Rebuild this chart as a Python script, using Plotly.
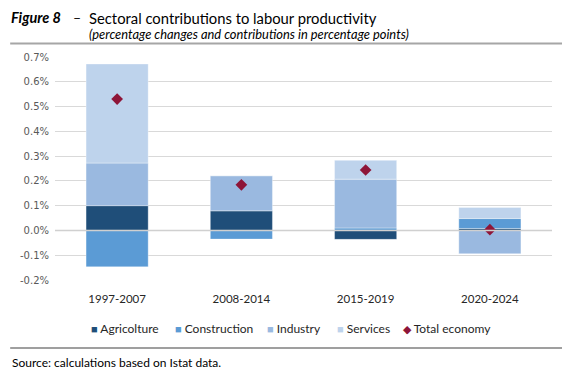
import plotly.graph_objects as go

periods = ["1997-2007", "2008-2014", "2015-2019", "2020-2024"]
agriculture = [0.100, 0.079, -0.036, 0.008]
construction = [-0.147, -0.035, 0.010, 0.040]
industry = [0.172, 0.142, 0.197, -0.094]
services = [0.400, 0.000, 0.076, 0.045]
total_economy = [0.530, 0.184, 0.244, 0.003]

y_tickvals = [-0.2, -0.1, 0.0, 0.1, 0.2, 0.3, 0.4, 0.5, 0.6, 0.7]
y_ticktext = ["-0.2%", "-0.1%", "0.0%", "0.1%", "0.2%", "0.3%", "0.4%", "0.5%", "0.6%", "0.7%"]

series_names = ["Agricolture", "Construction", "Industry", "Services"]
series_values = [agriculture, construction, industry, services]
series_colors = ["#1F4E79", "#5B9BD5", "#9AB9E0", "#BED3EC"]
total_color = "#8E1538"

FONT = "Lato"
OFF = 8  # page body margin
W, H = 570 - OFF, 386 - OFF
L, R, T, B = 45, 18, 49, 106

fig = go.Figure()
for name, vals, col in zip(series_names, series_values, series_colors):
    fig.add_trace(go.Bar(
        x=periods, y=vals, name=name,
        marker=dict(color=col, line=dict(color="rgba(255,255,255,0.35)", width=1)),
        showlegend=False,
    ))
fig.add_trace(go.Scatter(
    x=periods, y=total_economy, name="Total economy", mode="markers",
    marker=dict(symbol="diamond", size=9, color=total_color),
    showlegend=False,
))

fig.update_layout(
    width=W, height=H,
    margin=dict(l=L, r=R, t=T, b=B),
    barmode="relative", bargap=0.5,
    plot_bgcolor="white", paper_bgcolor="white",
    font=dict(family=FONT, size=11, color="#262626"),
    xaxis=dict(showgrid=False, showline=False, zeroline=False,
               ticks="outside", ticklen=8, tickcolor="rgba(0,0,0,0)",
               tickfont=dict(size=11.5, color="#262626")),
    yaxis=dict(range=[-0.2, 0.7], tickvals=y_tickvals, ticktext=y_ticktext,
               showgrid=True, gridcolor="#D9D9D9", gridwidth=1.3,
               zeroline=False, showline=False,
               ticks="outside", ticklen=3, tickcolor="rgba(0,0,0,0)",
               tickfont=dict(family="DejaVu Sans", size=10, color="#595959")),
)

# zero line over bars
fig.add_shape(type="line", xref="paper", yref="y", x0=0, x1=1, y0=0, y1=0,
              line=dict(color="#D0D0D0", width=1.5), layer="above")

pw = W - L - R
ph = H - T - B

def px_x(x):
    return (max(x - OFF, 0) - L) / pw

def px_y(y):
    return (H - B - (y - OFF)) / ph

# title block (top edge of figure kept inside the page)
fig.add_annotation(text="<b><i>Figure 8</i></b>", xref="paper", yref="paper",
                   x=px_x(4), y=px_y(8), xanchor="left", yanchor="top", borderpad=0,
                   showarrow=False, font=dict(size=14.5, color="#000000"))
fig.add_annotation(text="\u2013", xref="paper", yref="paper",
                   x=px_x(75), y=px_y(8), xanchor="center", yanchor="top", borderpad=0,
                   showarrow=False, font=dict(size=14, color="#000000"))
fig.add_annotation(text="Sectoral contributions to labour productivity", xref="paper", yref="paper",
                   x=px_x(86), y=px_y(8), xanchor="left", yanchor="top", borderpad=0,
                   showarrow=False, font=dict(size=14.8, color="#000000"))
fig.add_annotation(text="<i>(percentage changes and contributions in percentage points)</i>",
                   xref="paper", yref="paper", borderpad=0,
                   x=px_x(86), y=px_y(34), xanchor="left", yanchor="middle",
                   showarrow=False, font=dict(size=12.9, color="#000000"))
fig.add_shape(type="line", xref="paper", yref="paper",
              x0=px_x(0), x1=px_x(568), y0=px_y(43.5), y1=px_y(43.5),
              line=dict(color="#A6A6A6", width=2))
fig.add_shape(type="line", xref="paper", yref="paper",
              x0=px_x(0), x1=px_x(568), y0=px_y(348), y1=px_y(348),
              line=dict(color="#7F7F7F", width=1.3))
fig.add_annotation(text="Source: calculations based on Istat data.", xref="paper", yref="paper",
                   x=px_x(3), y=px_y(362), xanchor="left", yanchor="middle",
                   showarrow=False, font=dict(size=12, color="#000000"))

# legend
legend_names = series_names + ["Total economy"]
legend_colors = series_colors + [total_color]
legend_symbols = ["\u25A0"] * 4 + ["\u25C6"]
legend_x = [87, 171, 264, 334, 400]
for name, col, sym, lx in zip(legend_names, legend_colors, legend_symbols, legend_x):
    fig.add_annotation(
        text=f'<span style="color:{col};font-size:11px">{sym}</span> {name}',
        xref="paper", yref="paper", x=px_x(lx), y=px_y(328),
        xanchor="left", yanchor="middle", showarrow=False,
        font=dict(size=12, color="#262626"))

fig.write_html("out.html")
